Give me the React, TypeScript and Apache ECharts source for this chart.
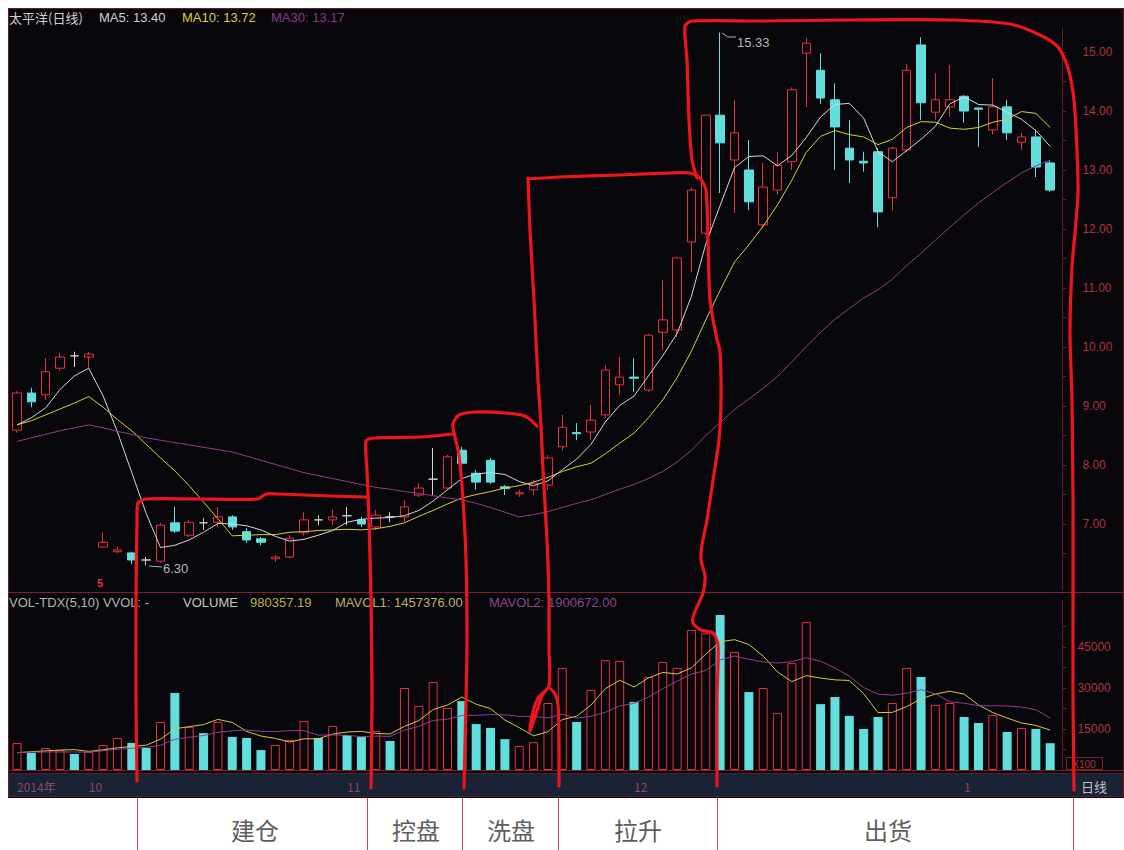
import React, { useEffect, useRef } from 'react';
import * as echarts from 'echarts';

// ---- Daily candles (price, yuan) ----
const opens = [8.59, 9.22, 9.19, 9.64, 9.85, 9.83, 6.61, 6.53, 6.51, 6.39,
  6.37, 7.02, 6.81, 7.02, 7.03, 7.12, 6.87, 6.75, 6.41, 6.44,
  6.85, 7.07, 7.07, 7.14, 7.07, 6.95, 7.12, 7.12, 7.49, 7.76,
  7.61, 8.25, 7.86, 8.08, 7.63, 7.51, 7.58, 7.66, 8.31, 8.55,
  8.56, 8.85, 9.36, 9.49, 9.27, 10.25, 10.29, 11.78, 11.93, 13.93,
  13.17, 13.00, 12.07, 12.66, 13.14, 14.98, 14.69, 14.19, 13.37, 13.15,
  13.31, 12.53, 13.34, 15.12, 13.98, 14.07, 14.25, 14.05, 13.68, 14.07,
  13.47, 13.56, 13.12];
const closes = [9.22, 9.07, 9.58, 9.83, 9.85, 9.88, 6.69, 6.56, 6.39, 6.39,
  6.98, 6.88, 7.03, 7.02, 7.12, 6.95, 6.73, 6.69, 6.44, 6.76,
  7.07, 7.07, 7.12, 7.14, 7.00, 7.15, 7.12, 7.29, 7.61, 7.76,
  8.14, 8.03, 7.71, 7.71, 7.60, 7.53, 7.69, 8.12, 8.64, 8.53,
  8.76, 9.61, 9.49, 9.47, 10.20, 10.46, 11.51, 12.66, 13.93, 13.46,
  13.63, 12.46, 12.71, 13.08, 14.36, 15.15, 14.22, 13.73, 13.17, 13.12,
  12.29, 13.37, 14.69, 14.14, 14.19, 14.19, 14.00, 14.03, 14.07, 13.63,
  13.56, 13.05, 12.66];
const lows = [8.55, 8.98, 9.10, 9.60, 9.66, 9.64, 6.60, 6.51, 6.32, 6.30,
  6.34, 6.85, 6.78, 6.90, 6.95, 6.90, 6.68, 6.64, 6.36, 6.42,
  6.81, 6.98, 6.98, 6.98, 6.95, 6.90, 7.03, 7.03, 7.46, 7.49,
  7.58, 8.00, 7.58, 7.68, 7.49, 7.46, 7.49, 7.58, 8.25, 8.42,
  8.42, 8.80, 9.19, 9.24, 9.24, 9.95, 10.17, 11.27, 11.90, 12.61,
  12.27, 12.32, 12.02, 12.58, 13.00, 14.07, 14.12, 13.00, 12.78, 12.97,
  12.03, 12.32, 13.30, 13.85, 13.85, 13.90, 13.80, 13.39, 13.60, 13.51,
  13.34, 12.88, 12.63];
const highs = [9.25, 9.31, 9.81, 9.90, 9.92, 9.92, 6.86, 6.61, 6.53, 6.44,
  7.02, 7.29, 7.07, 7.10, 7.29, 7.15, 6.93, 6.78, 6.47, 6.81,
  7.20, 7.15, 7.24, 7.29, 7.12, 7.24, 7.20, 7.41, 7.69, 8.29,
  8.17, 8.31, 7.92, 8.12, 7.66, 7.58, 7.75, 8.17, 8.85, 8.71,
  9.02, 9.69, 9.83, 9.81, 10.22, 11.14, 11.53, 12.70, 13.93, 15.33,
  14.19, 13.51, 13.12, 13.30, 14.40, 15.24, 14.98, 14.47, 13.85, 13.31,
  13.37, 13.39, 14.80, 15.25, 14.64, 14.78, 14.27, 14.06, 14.56, 14.19,
  13.63, 13.68, 13.15];

// ---- Moving averages of price ----
const ma5 = [8.68, 8.80, 8.97, 9.28, 9.51, 9.64, 9.17, 8.56, 7.87, 7.18,
  6.60, 6.64, 6.73, 6.86, 7.01, 7.00, 6.97, 6.90, 6.79, 6.71,
  6.74, 6.81, 6.89, 7.03, 7.08, 7.10, 7.11, 7.14, 7.23, 7.39,
  7.58, 7.77, 7.85, 7.87, 7.84, 7.72, 7.65, 7.73, 7.92, 8.10,
  8.35, 8.73, 9.01, 9.17, 9.51, 9.85, 10.23, 10.86, 11.75, 12.40,
  13.04, 13.23, 13.24, 13.07, 13.25, 13.55, 13.90, 14.11, 14.13, 13.88,
  13.31, 13.14, 13.33, 13.52, 13.74, 14.12, 14.24, 14.11, 14.10, 13.98,
  13.86, 13.67, 13.40];
const ma10 = [8.68, 8.75, 8.85, 8.95, 9.05, 9.16, 8.98, 8.77, 8.58, 8.35,
  8.12, 7.90, 7.65, 7.37, 7.09, 6.80, 6.81, 6.82, 6.82, 6.86,
  6.87, 6.89, 6.90, 6.91, 6.90, 6.92, 6.96, 7.02, 7.13, 7.23,
  7.34, 7.44, 7.50, 7.55, 7.61, 7.65, 7.71, 7.79, 7.89, 7.97,
  8.03, 8.19, 8.37, 8.54, 8.80, 9.10, 9.48, 9.93, 10.46, 10.96,
  11.44, 11.73, 12.05, 12.41, 12.83, 13.30, 13.57, 13.67, 13.60, 13.56,
  13.43, 13.52, 13.72, 13.82, 13.81, 13.71, 13.69, 13.72, 13.81, 13.86,
  13.99, 13.96, 13.72];
const ma30 = [8.40, 8.46, 8.52, 8.58, 8.63, 8.68, 8.63, 8.57, 8.52, 8.46,
  8.42, 8.38, 8.34, 8.30, 8.26, 8.22, 8.15, 8.08, 8.01, 7.94,
  7.87, 7.82, 7.77, 7.72, 7.67, 7.62, 7.59, 7.55, 7.52, 7.48,
  7.44, 7.41, 7.35, 7.28, 7.20, 7.12, 7.16, 7.21, 7.28, 7.35,
  7.41, 7.50, 7.59, 7.67, 7.77, 7.89, 8.05, 8.25, 8.50, 8.72,
  8.94, 9.12, 9.30, 9.50, 9.75, 10.01, 10.25, 10.47, 10.65, 10.83,
  10.97, 11.15, 11.38, 11.59, 11.81, 12.03, 12.24, 12.44, 12.62, 12.79,
  12.95, 13.07, 13.17];

// ---- Volume (x100 shares) ----
const volumes = [9900, 6200, 8050, 7300, 5850, 6600, 9150, 11700, 9900, 8050,
  17550, 28200, 15700, 13500, 17550, 12100, 11700, 7300, 9150, 11000,
  17900, 11700, 16100, 12800, 12100, 14300, 10600, 30000, 23400, 32200,
  22700, 25200, 16800, 15400, 11300, 8800, 10200, 24500, 37300, 17550,
  29300, 40200, 39900, 24900, 34000, 39500, 37300, 51200, 50000, 56700,
  43200, 28500, 30000, 20900, 39100, 54100, 24100, 26700, 19800, 15000,
  19400, 24500, 37300, 34000, 23800, 24500, 19400, 17200, 20100, 13900,
  15400, 15000, 9804];
const volUp = [1, 0, 1, 1, 0, 1, 1, 1, 0, 0,
  1, 0, 1, 0, 1, 0, 0, 0, 1, 1,
  1, 0, 1, 0, 0, 1, 0, 1, 1, 1,
  1, 0, 0, 0, 0, 1, 1, 1, 1, 0,
  1, 1, 1, 0, 1, 1, 1, 1, 1, 0,
  1, 0, 1, 1, 1, 1, 0, 0, 0, 0,
  0, 1, 1, 0, 1, 1, 0, 0, 1, 0,
  1, 0, 0];
const volMa5 = [6300, 6700, 7000, 7300, 7460, 6800, 7390, 8120, 8640, 9080,
  11270, 15080, 15880, 16600, 18500, 17410, 14110, 12430, 11560, 10250,
  11410, 11410, 13170, 13900, 14120, 13400, 13180, 15960, 18080, 22100,
  23780, 26700, 24060, 22460, 18280, 15500, 12500, 14040, 18420, 19670,
  23770, 29770, 32850, 30370, 33660, 35700, 35120, 37380, 42400, 46940,
  47680, 45920, 41680, 35860, 32340, 34520, 33640, 32980, 32760, 27940,
  21000, 21080, 23200, 26040, 27800, 28820, 27800, 23780, 21000, 19020,
  17200, 16320, 14574];
const volMa10 = [6400, 6500, 6600, 6600, 6600, 6550, 7045, 7560, 7970, 8270,
  9035, 11235, 12000, 12620, 13790, 14340, 14595, 14155, 14080, 14375,
  14410, 12760, 12800, 12730, 12185, 12405, 12295, 14565, 15990, 18110,
  18590, 19940, 20010, 20270, 20190, 19640, 19600, 19050, 20440, 18975,
  19635, 21135, 23445, 24395, 26665, 29735, 32495, 35115, 36385, 40300,
  41690, 40520, 39530, 39130, 39640, 41100, 39780, 37330, 34310, 30140,
  27760, 27360, 28090, 29400, 27870, 24910, 24440, 23490, 23520, 23410,
  23010, 22060, 19007];

// ---- Axis ticks and labels ----
const priceLabels = [7, 8, 9, 10, 11, 12, 13, 14, 15];
const priceTicks = [6.5, 7, 7.5, 8, 8.5, 9, 9.5, 10, 10.5, 11, 11.5, 12, 12.5, 13, 13.5, 14, 14.5, 15];
const volLabels = [15000, 30000, 45000];
const volTicks = [7500, 15000, 22500, 30000, 37500, 45000, 52500];
const monthTickIndex = [0, 5, 23, 43, 66];
const monthTickText = ['2014年', '10', '11', '12', '1'];
const stageNames = ['建仓', '控盘', '洗盘', '拉升', '出货'];
const days = opens.map((_, i) => `D${i + 1}`);

const UP = '#e8303e';
const DOWN = '#62dede';
const HAND = '#f0141e';
const DIMRED = '#6a1c26';

function txt(x: number, y: number, text: string, fill: string, font: string, align = 'left', z = 50) {
  return {
    type: 'text', x, y, z, silent: true,
    style: { text, fill, font, align, verticalAlign: 'middle', textAlign: align, textVerticalAlign: 'middle' },
  };
}
function hand(points: number[][]) {
  return {
    type: 'polyline', z: 100, silent: true,
    shape: { points, smooth: 0.25 },
    style: { stroke: HAND, lineWidth: 3.2, fill: 'none', lineJoin: 'round', lineCap: 'round' },
  };
}
function thin(x1: number, y1: number, x2: number, y2: number, stroke: string, z = 20) {
  return { type: 'line', z, silent: true, shape: { x1, y1, x2, y2 }, style: { stroke, lineWidth: 1 } };
}

export default function App() {
  const ref = useRef<HTMLDivElement>(null);
  useEffect(() => {
    const chart = echarts.init(ref.current!, null, { renderer: 'svg' });
    const GL = 9.825;
    const GW = 1047.55;
    const PMIN = 15 - (590 - 52) / 59;
    const PMAX = 15 + (52 - 28) / 59;
    const VMAX = (170 / 41) * 15000;
    const num13 = '13px "Liberation Sans", Arial, sans-serif';
    const cjk13 = '13px "Noto Sans CJK SC", sans-serif';

    const stageX = [255, 416, 511, 638, 888];
    const stageSep = [137, 367, 462, 558, 717, 1073];

    const graphic: any[] = [
      { type: 'rect', z: -20, silent: true, shape: { x: 8, y: 8, width: 1116, height: 790 }, style: { fill: '#07070c' } },
      { type: 'rect', z: -19, silent: true, shape: { x: 8, y: 773, width: 1116, height: 24 }, style: { fill: '#1a2236' } },
      { type: 'rect', z: -18, silent: true, shape: { x: 8.5, y: 8.5, width: 1115, height: 788 }, style: { fill: 'none', stroke: DIMRED, lineWidth: 1 } },
      thin(8, 592.5, 1124, 592.5, '#80202c', 5),
      thin(8, 770.5, 1124, 770.5, '#80202c', 5),
      thin(8, 773.5, 1124, 773.5, '#50202a', 5),
      // titles
      txt(9, 17, '太平洋(日线)', '#d0d0d0', cjk13),
      txt(99, 17, 'MA5: 13.40', '#d0d0d0', num13),
      txt(182, 17, 'MA10: 13.72', '#d8d040', num13),
      txt(271, 17, 'MA30: 13.17', '#8c3c84', num13),
      txt(9, 602, 'VOL-TDX(5,10) VVOL: -', '#b4b4b4', num13),
      txt(183, 602, 'VOLUME', '#c4c4c4', num13),
      txt(250, 602, '980357.19', '#b8b050', num13),
      txt(335, 602, 'MAVOL1: 1457376.00', '#b4b470', num13),
      txt(489, 602, 'MAVOL2: 1900672.00', '#8a4a8a', num13),
      // high / low marks
      { type: 'polyline', z: 40, silent: true, shape: { points: [[722, 33], [728, 37], [736, 37]] }, style: { stroke: '#b0b0b0', lineWidth: 1, fill: 'none' } },
      txt(737, 42, '15.33', '#b8b8b8', num13),
      { type: 'polyline', z: 40, silent: true, shape: { points: [[149, 566], [162, 567]] }, style: { stroke: '#b0b0b0', lineWidth: 1, fill: 'none' } },
      txt(163, 568, '6.30', '#b8b8b8', num13),
      txt(97, 583, '5', UP, 'bold 11px "Liberation Sans", sans-serif'),
      // axis corner boxes
      { type: 'rect', z: 30, silent: true, shape: { x: 1066.5, y: 757.5, width: 36, height: 12 }, style: { fill: 'none', stroke: '#80202c', lineWidth: 1 } },
      txt(1084, 764, 'X100', '#b0343c', '10px "Liberation Sans", sans-serif', 'center'),
      txt(1094, 786, '日线', '#c4c4c4', cjk13, 'center'),
      // hand-drawn stage outlines
      hand([[137, 781], [136, 700], [136, 600], [137, 520], [138, 503], [146, 499], [200, 499], [258, 499], [266, 494], [278, 494], [330, 496], [366, 497]]),
      hand([[371, 788], [372, 700], [371, 600], [369, 520], [367, 470], [366, 441], [374, 438], [420, 437], [453, 434]]),
      hand([[464, 788], [466, 700], [467, 640], [466, 560], [463, 500], [459, 455], [455, 437], [453, 424], [459, 415], [476, 412], [505, 413], [525, 416], [537, 426]]),
      hand([[528, 178], [530, 230], [534, 300], [538, 380], [541, 425], [543, 470], [547, 540], [549, 600], [549, 650], [549, 686], [538, 698], [532, 716], [530, 731], [536, 714], [542, 696], [549, 688], [555, 694], [558, 705], [559, 740], [559, 786]]),
      hand([[528, 179], [560, 177], [620, 175], [670, 173], [690, 173], [700, 178], [706, 190], [708, 240], [710, 300], [716, 335], [720, 352], [721, 400], [719, 440], [713, 480], [707, 520], [702, 545], [701, 560], [705, 576], [703, 593], [694, 614], [693, 623], [701, 630], [713, 633], [718, 645], [717, 700], [717, 786]]),
      hand([[697, 178], [692, 160], [689, 120], [687, 60], [685, 26], [692, 21], [760, 21], [850, 20], [950, 20], [1010, 24], [1040, 35], [1058, 47], [1068, 68], [1074, 100], [1077, 150], [1078, 193], [1075, 233], [1072, 267], [1070, 333], [1072, 400], [1073, 500], [1073, 600], [1073, 700], [1074, 790]]),
    ];
    stageSep.forEach((x) => graphic.push(thin(x + 0.5, 798, x + 0.5, 850, '#d84050', 20)));
    stageNames.forEach((n, i) => graphic.push(txt(stageX[i], 829, n, '#5e5e5e', '24px "Noto Sans CJK SC", sans-serif', 'center')));

    const option: any = {
      animation: false,
      backgroundColor: '#ffffff',
      grid: [
        { left: GL, width: GW, top: 28, height: 562 },
        { left: GL, width: GW, top: 600, height: 170 },
      ],
      xAxis: [
        {
          type: 'category', gridIndex: 0, data: days, boundaryGap: true,
          axisLine: { show: false }, axisTick: { show: false }, axisLabel: { show: false }, splitLine: { show: false },
        },
        {
          type: 'category', gridIndex: 1, data: days, boundaryGap: true,
          axisLine: { show: false }, axisTick: { show: false }, splitLine: { show: false },
          axisLabel: {
            show: true, margin: 10, align: 'left', color: '#8a4860', fontSize: 12,
            fontFamily: '"Noto Sans CJK SC", "Liberation Sans", sans-serif',
            interval: (i: number) => monthTickIndex.includes(i),
            formatter: (_v: string, i: number) => {
              const k = monthTickIndex.indexOf(i);
              return k >= 0 ? monthTickText[k] : '';
            },
          },
        },
      ],
      yAxis: [
        {
          type: 'value', gridIndex: 0, position: 'right', min: PMIN, max: PMAX, offset: 5,
          axisLine: { show: true, lineStyle: { color: DIMRED } },
          axisTick: { show: true, length: 4, customValues: priceTicks, lineStyle: { color: DIMRED } },
          axisLabel: {
            customValues: priceLabels, margin: 20, color: '#b0343c', fontSize: 12,
            fontFamily: '"Liberation Sans", Arial, sans-serif',
            formatter: (v: number) => v.toFixed(2),
          },
          splitLine: { show: false },
        },
        {
          type: 'value', gridIndex: 1, position: 'right', min: 0, max: VMAX, offset: 5,
          axisLine: { show: true, lineStyle: { color: DIMRED } },
          axisTick: { show: true, length: 4, customValues: volTicks, lineStyle: { color: DIMRED } },
          axisLabel: {
            customValues: volLabels, margin: 15, color: '#b0343c', fontSize: 12,
            fontFamily: '"Liberation Sans", Arial, sans-serif',
            formatter: (v: number) => String(v),
          },
          splitLine: { show: false },
        },
      ],
      series: [
        {
          type: 'candlestick', xAxisIndex: 0, yAxisIndex: 0, barWidth: 9, silent: true,
          data: opens.map((o, i) => [o, closes[i], lows[i], highs[i]]),
          itemStyle: {
            color: 'rgba(0,0,0,0)', color0: DOWN, borderColor: UP, borderColor0: DOWN,
            borderColorDoji: '#d4d4d4', borderWidth: 1,
          },
        },
        { type: 'line', xAxisIndex: 0, yAxisIndex: 0, data: ma5, symbol: 'none', silent: true, z: 4, lineStyle: { color: '#d8d8d8', width: 1 } },
        { type: 'line', xAxisIndex: 0, yAxisIndex: 0, data: ma10, symbol: 'none', silent: true, z: 4, lineStyle: { color: '#d8d040', width: 1 } },
        { type: 'line', xAxisIndex: 0, yAxisIndex: 0, data: ma30, symbol: 'none', silent: true, z: 4, lineStyle: { color: '#94408a', width: 1 } },
        {
          type: 'bar', xAxisIndex: 1, yAxisIndex: 1, barWidth: 9, silent: true,
          data: volumes.map((v, i) => ({
            value: v,
            itemStyle: volUp[i]
              ? { color: 'rgba(0,0,0,0)', borderColor: UP, borderWidth: 1 }
              : { color: DOWN, borderColor: DOWN, borderWidth: 0 },
          })),
        },
        { type: 'line', xAxisIndex: 1, yAxisIndex: 1, data: volMa5, symbol: 'none', silent: true, z: 4, lineStyle: { color: '#d8c850', width: 1 } },
        { type: 'line', xAxisIndex: 1, yAxisIndex: 1, data: volMa10, symbol: 'none', silent: true, z: 4, lineStyle: { color: '#94408a', width: 1 } },
      ],
      graphic,
    };
    chart.setOption(option);
    return () => chart.dispose();
  }, []);
  return <div ref={ref} style={{ position: 'fixed', left: 0, top: 0, width: 1124, height: 850 }} />;
}
